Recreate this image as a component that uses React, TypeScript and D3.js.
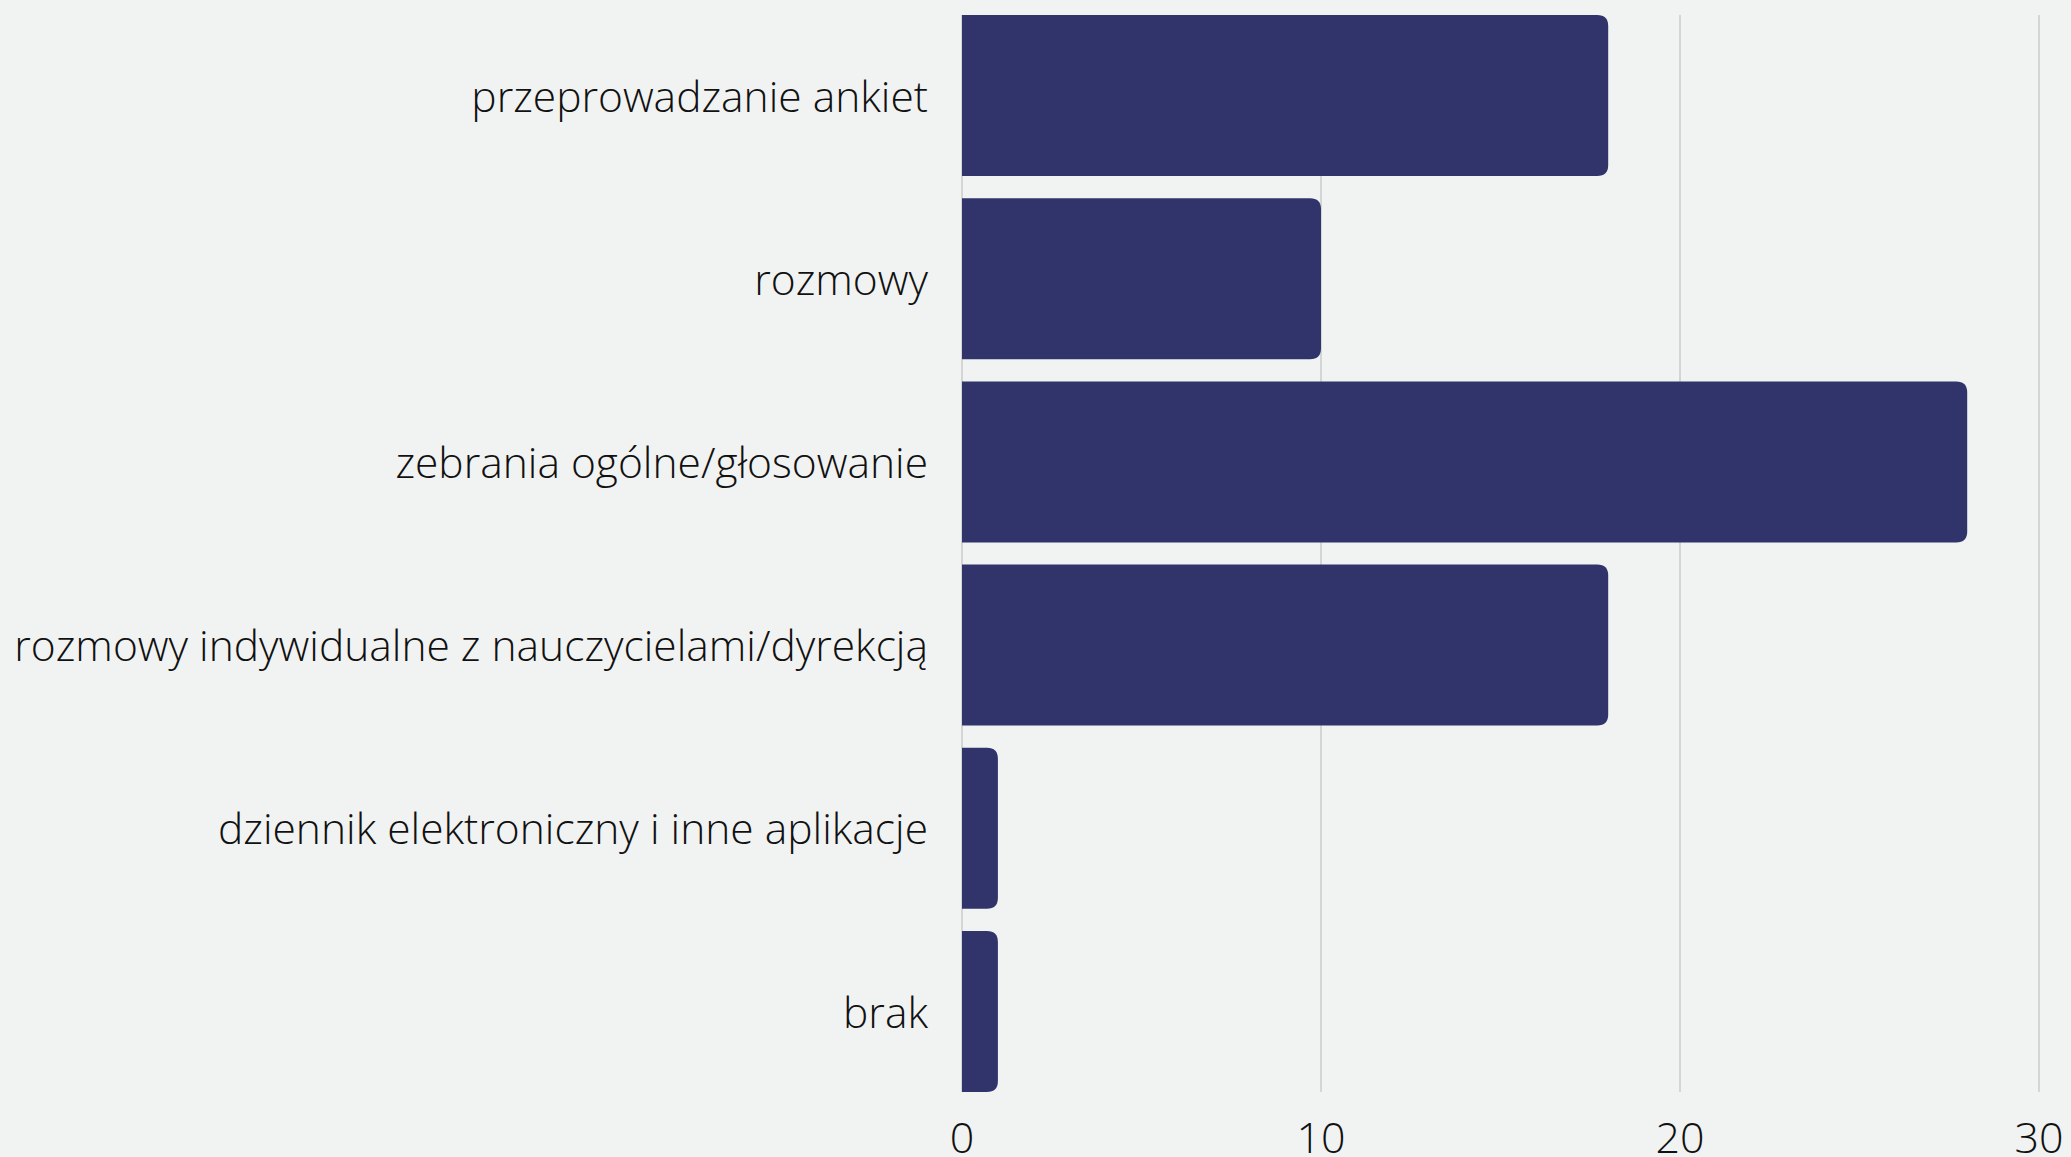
import * as d3 from "d3";
import React, { useEffect, useRef } from "react";

const kategorie = [
  "przeprowadzanie ankiet",
  "rozmowy",
  "zebrania ogólne/głosowanie",
  "rozmowy indywidualne z nauczycielami/dyrekcją",
  "dziennik elektroniczny i inne aplikacje",
  "brak",
];
const wartosci = [18, 10, 28, 18, 1, 1];
const ticki = [0, 10, 20, 30];

// prostokat zaokraglony tylko z prawej strony
function barPath(x0: number, x1: number, y: number, h: number, r: number) {
  const rr = Math.min(r, (x1 - x0) / 2, h / 2);
  return `M${x0},${y}H${x1 - rr}Q${x1},${y} ${x1},${y + rr}V${y + h - rr}Q${x1},${y + h} ${x1 - rr},${y + h}H${x0}Z`;
}

function Wykres() {
  const ref = useRef<SVGSVGElement>(null);

  useEffect(() => {
    const width = 2071;
    const height = 1157;
    const svg = d3.select(ref.current);
    svg.selectAll("*").remove();
    svg.attr("width", width).attr("height", height);

    svg.append("rect").attr("width", width).attr("height", height).attr("fill", "#f1f3f2");

    const x = d3.scaleLinear().domain([0, 30]).range([962, 2039]);
    const y = d3.scaleBand().domain(kategorie).range([15, 1092]).paddingInner(0.121).paddingOuter(0);

    // siatka
    svg.selectAll("line.grid")
      .data(ticki)
      .enter().append("line")
      .attr("class", "grid")
      .attr("x1", d => x(d)).attr("x2", d => x(d))
      .attr("y1", 15).attr("y2", 1092)
      .attr("stroke", "#c4c6c5")
      .attr("stroke-width", 1.3);

    svg.selectAll("path.bar")
      .data(wartosci)
      .enter().append("path")
      .attr("class", "bar")
      .attr("fill", "#30346b")
      .attr("d", (d, i) => barPath(x(0), x(d), y(kategorie[i])!, y.bandwidth(), 11));

    svg.selectAll("text.kat")
      .data(kategorie)
      .enter().append("text")
      .attr("class", "kat")
      .attr("x", x(0) - 34)
      .attr("y", d => y(d)! + y.bandwidth() / 2)
      .attr("dy", "0.38em")
      .attr("text-anchor", "end")
      .attr("font-family", "'Open Sans'")
      .attr("font-weight", 300)
      .attr("font-size", 42.5)
      .attr("fill", "#111")
      .text(d => d);

    svg.selectAll("text.tick")
      .data(ticki)
      .enter().append("text")
      .attr("class", "tick")
      .attr("x", d => x(d))
      .attr("y", 1153)
      .attr("text-anchor", "middle")
      .attr("font-family", "'Open Sans'")
      .attr("font-weight", 300)
      .attr("font-size", 43)
      .attr("fill", "#111")
      .text(d => d);
  }, []);

  return <svg ref={ref} style={{ position: "absolute", left: 0, top: 0, display: "block" }}></svg>;
}

export default function App() {
  return <Wykres />;
}
